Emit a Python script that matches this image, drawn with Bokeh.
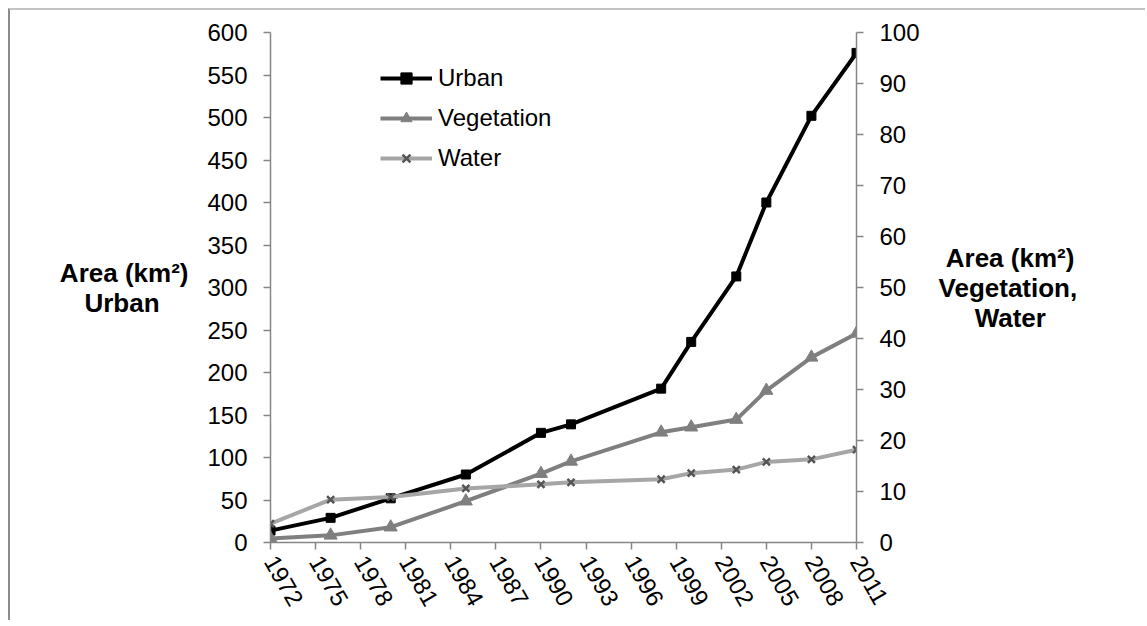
import math
from bokeh.plotting import figure
from bokeh.models import Range1d, LinearAxis, FixedTicker, Legend, LegendItem
from bokeh.embed import file_html
from bokeh.resources import INLINE

years = [1972, 1976, 1980, 1985, 1990, 1992, 1998, 2000, 2003, 2005, 2008, 2011]
urban = [14, 29, 52, 80, 129, 139, 181, 236, 313, 400, 502, 576]
vegetation = [0.8, 1.4, 3.0, 8.1, 13.5, 15.9, 21.6, 22.6, 24.1, 29.8, 36.3, 41.0]
water = [3.7, 8.4, 8.9, 10.6, 11.4, 11.8, 12.4, 13.6, 14.3, 15.8, 16.3, 18.2]
x_ticks = list(range(1972, 2012, 3))
left_ticks = list(range(0, 601, 50))
right_ticks = list(range(0, 101, 10))
NB = "\u00a0"
# non-breaking spaces visually centre each line of the multi-line axis titles
left_title = "Area (km²)\nUrban" + NB * 4
right_title = NB + "Area (km²)\n" + "Vegetation,\n" + NB * 5 + "Water"

FONT = "Liberation Sans"
AXIS_GRAY = "#868686"
W, H = 1137, 612

p = figure(width=W, height=H, output_backend="svg", toolbar_location=None,
           x_range=Range1d(1972, 2011), y_range=Range1d(0, 600),
           min_border_left=260, min_border_right=291, min_border_top=22, min_border_bottom=H - 22 - 510)
p.styles = {"margin-left": "8px", "margin-top": "8px",
            "border-top": "2px solid #c3c3c3", "border-left": "2px solid #8c8c8c"}
p.extra_y_ranges = {"right": Range1d(0, 100)}
p.outline_line_color = None
p.xgrid.visible = False
p.ygrid.visible = False
p.background_fill_color = "white"
p.border_fill_color = "white"

def style_axis(ax):
    ax.axis_line_color = AXIS_GRAY
    ax.axis_line_width = 1.5
    ax.major_tick_line_color = AXIS_GRAY
    ax.major_tick_line_width = 1.5
    ax.major_tick_in = 0
    ax.major_tick_out = 7
    ax.minor_tick_line_color = None
    ax.major_label_text_font = FONT
    ax.major_label_text_font_size = "24px"
    ax.major_label_text_color = "black"
    ax.axis_label_text_font = FONT
    ax.axis_label_text_font_size = "26px"
    ax.axis_label_text_font_style = "bold"
    ax.axis_label_text_color = "black"
    ax.axis_label_text_line_height = 1.0

xa = p.xaxis[0]
xa.ticker = FixedTicker(ticks=x_ticks)
style_axis(xa)
xa.major_label_orientation = -math.pi / 3
xa.major_label_standoff = 8

ya = p.yaxis[0]
ya.ticker = FixedTicker(ticks=left_ticks)
style_axis(ya)
ya.major_label_standoff = 16
ya.axis_label = left_title
ya.axis_label_orientation = "horizontal"
ya.axis_label_standoff = 16

ra = LinearAxis(y_range_name="right", ticker=FixedTicker(ticks=right_ticks))
style_axis(ra)
ra.major_label_standoff = 16
ra.axis_label = right_title
ra.axis_label_orientation = "horizontal"
ra.axis_label_standoff = 16
p.add_layout(ra, "right")

r_u = p.line(years, urban, line_color="black", line_width=4)
m_u = p.scatter(years, urban, marker="square", size=9, fill_color="black", line_color="black")
r_v = p.line(years, vegetation, line_color="#7f7f7f", line_width=4, y_range_name="right")
m_v = p.scatter(years, vegetation, marker="triangle", size=13, fill_color="#7f7f7f",
                line_color="#7f7f7f", y_range_name="right")
r_w = p.line(years, water, line_color="#a6a6a6", line_width=4, y_range_name="right")
m_w = p.scatter(years, water, marker="x", size=10, line_color="#555555", line_width=2.5,
                y_range_name="right")

legend = Legend(items=[
    LegendItem(label="Urban", renderers=[r_u, m_u]),
    LegendItem(label="Vegetation", renderers=[r_v, m_v]),
    LegendItem(label="Water", renderers=[r_w, m_w]),
], location=(110, 370))
legend.label_text_font = FONT
legend.label_text_font_size = "24px"
legend.label_text_color = "black"
legend.glyph_width = 52
legend.glyph_height = 28
legend.label_height = 28
legend.spacing = 12
legend.label_standoff = 6
legend.padding = 0
legend.margin = 0
legend.border_line_color = None
legend.background_fill_alpha = 0
p.add_layout(legend, "center")

open("out.html", "w").write(file_html(p, INLINE))
